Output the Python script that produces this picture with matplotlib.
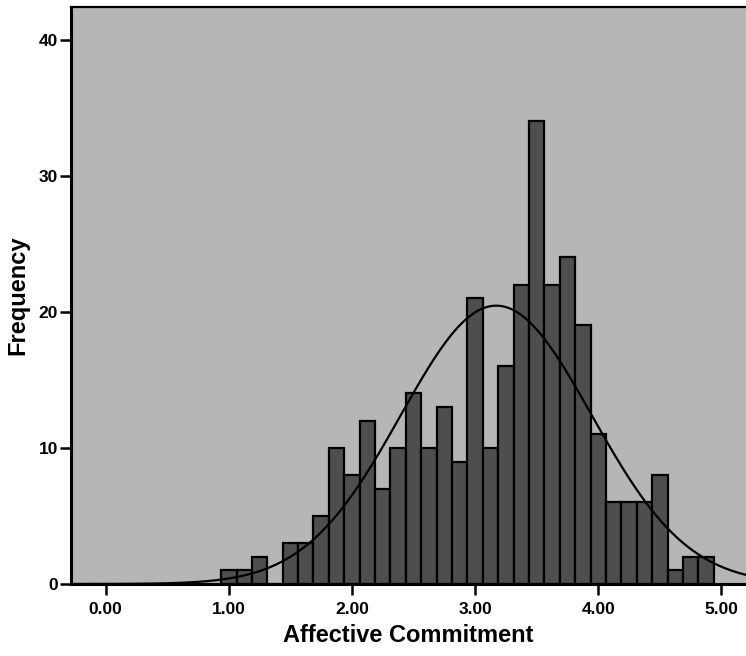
import numpy as np
import matplotlib
matplotlib.use("Agg")
import matplotlib.pyplot as plt

# bin centres (scores are means of 8 items, so steps of 0.125)
bin_centers = [1.0, 1.125, 1.25, 1.375, 1.5, 1.625, 1.75, 1.875,
               2.0, 2.125, 2.25, 2.375, 2.5, 2.625, 2.75, 2.875,
               3.0, 3.125, 3.25, 3.375, 3.5, 3.625, 3.75, 3.875,
               4.0, 4.125, 4.25, 4.375, 4.5, 4.625, 4.75, 4.875]
counts = [1, 1, 2, 0, 3, 3, 5, 10,
          8, 12, 7, 10, 14, 10, 13, 9,
          21, 10, 16, 22, 34, 22, 24, 19,
          11, 6, 6, 6, 8, 1, 2, 2]
bin_width = 0.125

x_ticks = [0, 1, 2, 3, 4, 5]
x_ticklabels = ["0.00", "1.00", "2.00", "3.00", "4.00", "5.00"]
y_ticks = [0, 10, 20, 30, 40]

plt.rcParams['font.family'] = ['Liberation Sans', 'DejaVu Sans']
plt.rcParams['font.weight'] = 'bold'

fig = plt.figure(figsize=(7.46, 6.56), dpi=100)
ax = fig.add_axes([0.0948, 0.1098, 0.9052, 0.8795])
ax.set_facecolor('#b6b6b6')

ax.bar(bin_centers, counts, width=bin_width, color='#4e4e4e',
       edgecolor='black', linewidth=1.6, zorder=2)

# normal curve fitted to the binned data (like SPSS)
c = np.array(bin_centers)
n = np.array(counts)
N = n.sum()
mean = (c * n).sum() / N
sd = np.sqrt(((c - mean) ** 2 * n).sum() / (N - 1))
xs = np.linspace(-0.3, 5.3, 400)
ys = N * bin_width / (sd * np.sqrt(2 * np.pi)) * np.exp(-0.5 * ((xs - mean) / sd) ** 2)
ax.plot(xs, ys, color='black', linewidth=1.6, zorder=3)

ax.set_xlim(-0.284, 5.2)
ax.set_ylim(0, 42.4)
ax.set_xticks(x_ticks)
ax.set_xticklabels(x_ticklabels)
ax.set_yticks(y_ticks)

ax.tick_params(axis='both', direction='out', length=8, width=1.8,
               labelsize=12.5, colors='black')
ax.tick_params(axis='x', pad=5)
ax.tick_params(axis='y', pad=1)
for lab in ax.get_xticklabels() + ax.get_yticklabels():
    lab.set_fontweight('bold')

ax.spines['left'].set_linewidth(2.2)
ax.spines['bottom'].set_linewidth(2.2)
ax.spines['top'].set_linewidth(1.6)
ax.spines['right'].set_visible(False)

ax.set_xlabel('Affective Commitment', fontsize=17, fontweight='bold', labelpad=5)
ax.set_ylabel('Frequency', fontsize=17, fontweight='bold', labelpad=7)

fig.savefig('out.png', dpi=100)
